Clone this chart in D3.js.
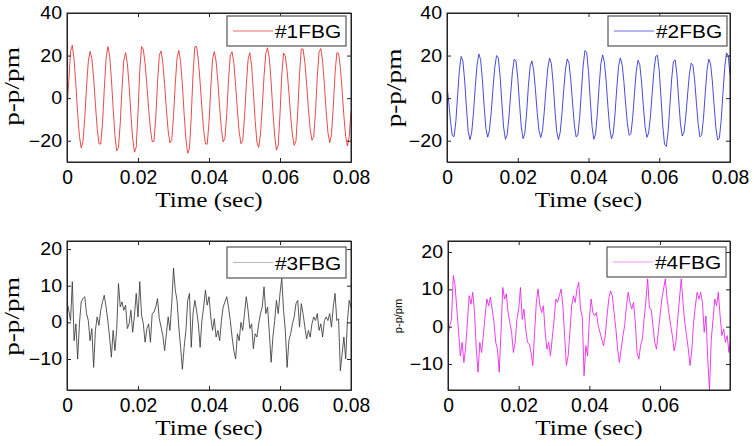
<!DOCTYPE html>
<html><head><meta charset="utf-8">
<script src="https://cdn.jsdelivr.net/npm/d3@7"></script>
<style>body{margin:0;background:#fff}</style>
</head><body>
<svg id="c" width="754" height="446"></svg>
<script>
// sampling interval of the recorded signals (seconds)
const sampleStep = 0.0005;

// #1FBG (red)
const fbg1 = [
 -5, 8, 22, 24.8, 18.2, 6.4, -7.2, -18, -23.3, -20.4,
 -9.4, 5.2, 17.2, 22, 18.6, 9.5, -2.8, -14.2, -21.3, -21.6,
 -11.8, 4.1, 18.5, 24.2, 20.1, 9.2, -4.9, -17.5, -24.7, -23.3,
 -11.7, 4.5, 17.7, 21.4, 16.3, 5.6, -7.5, -19, -25.4, -23,
 -6.9, 13.1, 24.2, 22.9, 16.2, 6.1, -5.1, -14.7, -20.4, -20.3,
 -9.4, 7.4, 20.2, 22.1, 16.6, 6.4, -5.3, -15.5, -21, -19.5,
 -8.6, 6.6, 19, 22.4, 17.2, 6.2, -7.4, -19.3, -25.9, -23.7,
 -8.6, 11.2, 24.1, 24.3, 17.9, 7.4, -4.6, -15.1, -21.5, -21.6,
 -11.5, 4.7, 18.1, 21.9, 17.3, 7.6, -4.3, -14.7, -20.5, -18.9,
 -7.3, 8.6, 20.2, 21.8, 16.3, 6.1, -5.7, -15.9, -21.4, -19.9,
 -9.2, 5.8, 18, 21.3, 15.4, 3.2, -10.5, -20.6, -23.2, -17,
 -4.2, 10.3, 21, 23.7, 18.5, 7.5, -6, -17.8, -24.4, -22.2,
 -7.5, 10.9, 21.2, 19.7, 12.9, 2.8, -8.2, -17.3, -22.2, -20.1,
 -6.4, 11.4, 23.1, 23.1, 16.8, 6.6, -4.9, -14.6, -19.8, -18.1,
 -6.3, 9.9, 21.7, 23.3, 17.3, 6.5, -6.1, -16.1, -20.9, -17.2,
 -4.2, 11.5, 21.3, 21.1, 14.4, 3.5, -8.4, -18, -22.5, -18,
 -6
];
// #2FBG (blue)
const fbg2 = [
 6, -2, -11, -17.5, -18.1, -10.9, 1.3, 13.1, 19.6, 17.4,
 8.1, -4.7, -15.8, -19.5, -15.9, -6.5, 5.5, 15.7, 20.7, 18.2,
 8.7, -3.8, -14.3, -18.3, -15.1, -6.6, 4.5, 14.3, 20, 19,
 10.5, -2.1, -13.6, -19.3, -17.3, -9.2, 2, 12.4, 18.3, 17.5,
 9.4, -2.6, -13.6, -19, -16.5, -7, 5.5, 15, 17.5, 13.2,
 3.9, -6.8, -15.3, -18.5, -15.2, -6.4, 4.7, 14.2, 18.8, 16.3,
 7.1, -5.3, -15.5, -19.5, -16.1, -7.2, 4, 13.7, 18.4, 16.4,
 8.5, -2.4, -12.5, -18.2, -17.3, -9.1, 3.5, 15.5, 22.4, 21.5,
 12.5, -1, -13.3, -19.3, -16.8, -7.2, 5.6, 16.2, 20.3, 16.8,
 7.6, -4.2, -14.2, -19.1, -16.6, -7.4, 4.8, 15, 18.9, 15.9,
 7.8, -2.8, -12.1, -17.5, -16.6, -9, 2.3, 12.7, 17.8, 15.7,
 7.5, -3.7, -13.6, -18.4, -16.4, -8.7, 2.3, 12.9, 19.6, 20.1,
 12.8, 0.1, -13.1, -21.8, -22.7, -15.8, -3.7, 8.9, 17.2, 18,
 11, -0.9, -12.2, -17.8, -16, -8.7, 1.5, 11, 16.4, 15.7,
 8.6, -2.1, -12.3, -18.2, -17.4, -9.5, 2.3, 13, 18.3, 16.3,
 8.1, -3.2, -13.8, -19.7, -18.8, -10.5, 2.2, 14.3, 21.3, 20,
 11
];
// #3FBG (black)
const fbg3 = [
 5.6, 3.3, 0.5, 11.1, -5, -0.4, -10, -0.4, 5.6, 6.5,
 7, 2.4, 0.5, -5, -1.7, -12.3, -2.2, 1.5, -0.8, 3.3,
 5.6, 7.4, 4.2, 0.5, -4, -9.5, -2.2, -7.7, -2, 10.6,
 4.2, 5.6, 3.3, 4.7, -1.7, -0.4, 3.3, -2.7, 1.9, 7.9,
 1.5, 11.1, 2, -0.4, -5.4, -1.7, -0.4, -5.4, 2.4, 2.8,
 4.2, 6.5, 1, -1.3, -3.6, -7.7, -3.1, 1.5, -2.2, 5.1,
 14.8, 8.8, 6, -1.3, -6.8, -12.8, -6.8, -2.2, 6, 7.9,
 -6.8, 2.4, 6, 3.3, -0.4, -6.8, 0.5, 4.2, 8.8, 4.7,
 7, 1.5, -2.2, 1, -4, -2.2, -5, 0.5, 4.2, 5.6,
 7, 4.2, 0.5, -4, -7.7, -10, -3.1, -5, 0, -2.2,
 2.4, 7, 3.3, -1.7, -0.4, -7.2, -3.1, -4, -0.4, 2.4,
 4.2, 9.7, 2.4, 4.2, -3, -10.9, -4, 0.5, 6, 2.4,
 7.9, 12, 3.3, -2.2, -12.3, -5, -3.1, -0.4, 1.5, 5.1,
 6, -1.3, 5.1, 2.4, -1.3, -4.5, -2.2, -4, -0.4, 1.5,
 0.5, 2.4, -2.2, -0.4, -4, 0.5, 1.5, 0.5, 2.4, -1.3,
 4.2, 7.9, 0.5, 1, -13.2, -8.6, -4, -10, 0.5, 6,
 4
];
// #4FBG (magenta)
const fbg4 = [
 -2.4, 0.3, 2, 13.7, 11, 4.7, -1.5, -7.8, -4.2, -9.6,
 -5.5, 1.2, 8.3, 6, 9.2, 3.8, -6, -12.2, -4.2, -6.9,
 -2.4, 2.9, 7.4, 5.6, 7.9, 4.7, 1.2, -4.2, -6, -12.2,
 -1.5, 10.5, 7.4, 8.8, 3.8, 1.2, -1.5, -6.9, -4.2, 2,
 4.7, 10.5, 2, 4.7, -0.6, -4.2, -4.6, -6.9, -10.4, -1.5,
 6.5, 10.1, 5.6, 3.8, 5.6, -1.5, -6, -4.2, -7.8, -3,
 1.5, 7.4, 6.5, 8.3, 10.1, 5.6, -2.4, -10.4, -7.8, -1.5,
 5.6, 8.3, 6.5, 10.1, 11.9, 4.7, 2.5, -13.1, -5.1, -7.8,
 2, 7.4, 3.8, 2.9, 3.8, 0.3, -1.5, -3.3, -5.1, -2.4,
 2.9, 7.4, 9.6, 8.3, 3.8, -0.5, -6, -9.6, -6, -2.4,
 0.3, 5.6, 9.2, 6.5, 4.7, 6.5, 1.2, -6.9, -8.7, -5.1,
 -3.3, 2, 7, 12.8, 5, 4.7, 0.3, -4.2, -6, -1.5,
 2.9, 7.4, 10.1, 12.8, 7.4, 3.8, 0.3, -2.4, -6.5, -4,
 2, 7.4, 12.8, 6.5, 1.2, -2.4, -6, -10.4, -6, 1.2,
 5.6, 9.2, 7.4, 9.2, 6.5, -1.5, 2.9, -8.7, -17, -3.5,
 2, 7.4, 5.6, 9.2, 2.9, -2.4, -0.6, -4.2, -2.4, -6.9,
 -3.3
];

const legendLabels = ["#1FBG", "#2FBG", "#3FBG", "#4FBG"];
const xTicksFull = [0, 0.02, 0.04, 0.06, 0.08];
const xTicks4 = [0, 0.02, 0.04, 0.06];
const yTicksTop = [-20, 0, 20, 40];
const yTicksBottom = [-10, 0, 10, 20];
const xLabel = "Time (sec)";
const yLabel = "p-p/pm";

const panels = [
  {data: fbg1, label: legendLabels[0], x0: 67, x1: 351, y0: 13, y1: 162, xDom: [0, 0.08], yDom: [-30, 40],
   xTicks: xTicksFull, yTicks: yTicksTop, color: "#e52a2a", legColor: "#ef6a6a",
   leg: [227, 16, 119, 30], yl: {x: 19, y: 86.5, big: true}},
  {data: fbg2, label: legendLabels[1], x0: 447, x1: 730, y0: 13, y1: 162, xDom: [0, 0.08], yDom: [-30, 40],
   xTicks: xTicksFull, yTicks: yTicksTop, color: "#2a2ad2", legColor: "#6a6ae0",
   leg: [608, 16, 119, 30], yl: {x: 400.5, y: 88, big: true}},
  {data: fbg3, label: legendLabels[2], x0: 67, x1: 351, y0: 241, y1: 390, xDom: [0, 0.08], yDom: [-18.45, 22.2],
   xTicks: xTicksFull, yTicks: yTicksBottom, color: "#3a3a3a", legColor: "#b8b8b8",
   leg: [227, 247, 119, 31], yl: {x: 19, y: 316.5, big: true}},
  {data: fbg4, label: legendLabels[3], x0: 448, x1: 730, y0: 241, y1: 390, xDom: [0, 0.0798], yDom: [-16.96, 22.95],
   xTicks: xTicks4, yTicks: yTicksBottom, color: "#e61ee6", legColor: "#f29af2",
   leg: [607, 247, 119, 30], yl: {x: 402, y: 316, big: false}}
];

const svg = d3.select("#c");
const SANS = "'Liberation Sans', Arial, sans-serif";
const SERIF = "'Liberation Serif', 'Times New Roman', serif";
const fmt = d => d === 0 ? "0" : d3.format(".2f")(d);

panels.forEach((p, i) => {
  const x = d3.scaleLinear().domain(p.xDom).range([p.x0, p.x1]);
  const y = d3.scaleLinear().domain(p.yDom).range([p.y1, p.y0]);
  const g = svg.append("g");

  // clip
  const cid = "clip" + i;
  svg.append("clipPath").attr("id", cid).append("rect")
    .attr("x", p.x0).attr("y", p.y0).attr("width", p.x1 - p.x0).attr("height", p.y1 - p.y0);

  // line
  const line = d3.line().x((d, k) => x(k * sampleStep)).y(d => y(d));
  g.append("path").datum(p.data).attr("d", line)
    .attr("clip-path", `url(#${cid})`)
    .attr("fill", "none").attr("stroke", p.color).attr("stroke-width", 0.85)
    .attr("stroke-linejoin", "round");

  // axes
  const axB = g.append("g").attr("transform", `translate(0,${p.y1})`)
    .call(d3.axisBottom(x).tickValues(p.xTicks).tickFormat(fmt).tickSizeInner(-4).tickSizeOuter(0).tickPadding(7.5));
  const axT = g.append("g").attr("transform", `translate(0,${p.y0})`)
    .call(d3.axisTop(x).tickValues(p.xTicks).tickFormat("").tickSizeInner(-4).tickSizeOuter(0));
  const axL = g.append("g").attr("transform", `translate(${p.x0},0)`)
    .call(d3.axisLeft(y).tickValues(p.yTicks).tickFormat(d3.format("d")).tickSizeInner(-4).tickSizeOuter(0).tickPadding(4.4));
  const axR = g.append("g").attr("transform", `translate(${p.x1},0)`)
    .call(d3.axisRight(y).tickValues(p.yTicks).tickFormat("").tickSizeInner(-4).tickSizeOuter(0));
  [axB, axT, axL, axR].forEach(a => {
    a.select(".domain").attr("stroke", "#222");
    a.selectAll(".tick line").attr("stroke", "#222");
  });
  axB.selectAll("text").attr("font-family", SANS).attr("font-size", 21).attr("fill", "#000")
    .attr("transform", "scale(0.92,1)");
  axL.selectAll("text").attr("font-family", SANS).attr("font-size", 17.5).attr("fill", "#000")
    .attr("transform", "scale(1.12,1)");

  // box border
  g.append("rect").attr("x", p.x0).attr("y", p.y0).attr("width", p.x1 - p.x0).attr("height", p.y1 - p.y0)
    .attr("fill", "none").attr("stroke", "#222").attr("stroke-width", 1);

  // x label
  g.append("text").text(xLabel)
    .attr("transform", `translate(${(p.x0 + p.x1) / 2},${p.y1 + 44.5}) scale(1.2,1)`)
    .attr("text-anchor", "middle").attr("font-family", SERIF).attr("font-size", 21).attr("fill", "#000");

  // y label
  if (p.yl.big) {
    g.append("text").text(yLabel)
      .attr("transform", `translate(${p.yl.x},${p.yl.y}) rotate(-90) scale(1.24,1)`)
      .attr("text-anchor", "middle").attr("font-family", SERIF).attr("font-size", 22).attr("fill", "#000");
  } else {
    g.append("text").text(yLabel)
      .attr("transform", `translate(${p.yl.x},${p.yl.y}) rotate(-90)`)
      .attr("text-anchor", "middle").attr("font-family", SANS).attr("font-size", 11).attr("fill", "#000");
  }

  // legend
  const [lx, ly, lw, lh] = p.leg;
  const lg = g.append("g");
  lg.append("rect").attr("x", lx).attr("y", ly).attr("width", lw).attr("height", lh)
    .attr("fill", "#fff").attr("stroke", "#555").attr("stroke-width", 1.2);
  lg.append("line").attr("x1", lx + 6).attr("x2", lx + 46).attr("y1", ly + lh / 2).attr("y2", ly + lh / 2)
    .attr("stroke", p.legColor).attr("stroke-width", 1);
  lg.append("text").text(p.label)
    .attr("transform", `translate(${lx + 48},${ly + lh / 2 + 7}) scale(1.1,1)`)
    .attr("font-family", SANS).attr("font-size", 19).attr("fill", "#000");
});
</script>
</body></html>
